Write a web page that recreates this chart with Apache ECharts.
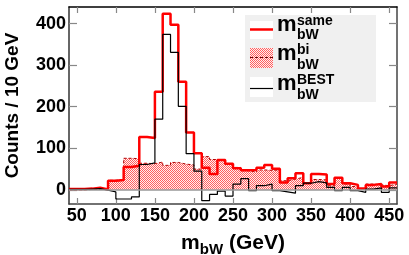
<!DOCTYPE html>
<html><head><meta charset="utf-8">
<script src="https://cdn.jsdelivr.net/npm/echarts@6/dist/echarts.min.js"></script>
<style>html,body{margin:0;padding:0;background:#fff}#c{width:409px;height:255px}</style>
</head><body><div id="c"></div>
<script>
// lower bin edges (GeV), bins are 10 GeV wide; last upper edge 460
const binLow = [40,50,60,70,80,90,100,110,120,130,140,150,160,170,180,190,200,210,220,230,240,250,260,270,280,290,300,310,320,330,340,350,360,370,380,390,400,410,420,430,440,450];
const lastEdge = 460;
const sameVals = [2,2,3,5,1,22,24,55,58,127,125,236,424,397,260,138,88,53,38,72,63,52,47,48,53,60,51,18,28,40,16,38,37,14,29,16,12,3,12,14,8,18];
const biVals   = [0,0,1,1,1,23,25,76,75,64,63,67,59,66,62,60,50,80,73,73,63,54,46,43,48,47,48,22,26,30,16,25,24,10,28,14,8,3,14,12,10,14];
const bestVals = [1,1,2,3,-1,-5,-22,-22,-17,61,65,170,374,331,201,87,45,-26,-11,-3,-15,14,27,-2,10,14,-2,-5,-8,10,16,20,17,6,-2,6,-2,-6,2,5,-6,5];
const xTicks = [50,100,150,200,250,300,350,400,450];
const yTicks = [0,100,200,300,400];

function stepData(vals){
  const d = binLow.map((x,i)=>[x, vals[i]]);
  d.push([lastEdge, vals[vals.length-1]]);
  return d;
}
const pc = document.createElement('canvas'); pc.width = 2; pc.height = 2;
const g = pc.getContext('2d');
g.fillStyle = '#fff0f0'; g.fillRect(0,0,2,2);
g.fillStyle = '#ff6060'; g.fillRect(0,0,1,1); g.fillRect(1,1,1,1);
const pattern = {image: pc, repeat: 'repeat'};

const FF = 'Liberation Sans, Arial, Helvetica, sans-serif';
const chart = echarts.init(document.getElementById('c'), null, {renderer:'canvas'});
const tickStyle = {color:'#888', width:1.2};
chart.setOption({
  animation:false,
  grid:{left:69, right:12, top:7, bottom:51, containLabel:false, outerBoundsMode:'none'},
  xAxis:[{
    type:'value', min:40, max:lastEdge, position:'bottom',
    axisLine:{show:true, onZero:false, lineStyle:{color:'#444', width:1.5}},
    axisTick:{show:true, inside:true, length:6, customValues:xTicks, lineStyle:tickStyle},
    axisLabel:{customValues:xTicks, fontSize:18, fontWeight:'bold', color:'#000', margin:3, fontFamily:FF},
    splitLine:{show:false},
    name:'m{s|bW} (GeV)', nameLocation:'middle', nameGap:26,
    nameTextStyle:{fontSize:21, fontWeight:'bold', color:'#000', fontFamily:FF,
      rich:{s:{fontSize:15, fontWeight:'bold', fontFamily:FF, color:'#000', padding:[12,0,0,0]}}}
  },{
    type:'value', min:40, max:lastEdge, position:'top',
    axisLine:{show:true, onZero:false, lineStyle:{color:'#000', width:1.5}},
    axisTick:{show:true, inside:true, length:6, customValues:xTicks, lineStyle:tickStyle},
    axisLabel:{show:false}, splitLine:{show:false}
  }],
  yAxis:[{
    type:'value', min:-34, max:440, position:'left',
    axisLine:{show:true, onZero:false, lineStyle:{color:'#333', width:1.5}},
    axisTick:{show:true, inside:true, length:8, customValues:yTicks, lineStyle:tickStyle},
    axisLabel:{customValues:yTicks, fontSize:18, fontWeight:'bold', color:'#000', margin:3, fontFamily:FF},
    splitLine:{show:false},
    name:'Counts / 10 GeV', nameLocation:'middle', nameGap:47, nameRotate:90,
    nameTextStyle:{fontSize:19, fontWeight:'bold', color:'#000', fontFamily:FF}
  },{
    type:'value', min:-34, max:440, position:'right',
    axisLine:{show:true, onZero:false, lineStyle:{color:'#444', width:1.5}},
    axisTick:{show:true, inside:true, length:8, customValues:yTicks, lineStyle:tickStyle},
    axisLabel:{show:false}, splitLine:{show:false}
  }],
  series:[{
    name:'bi', type:'line', step:'end', data:stepData(biVals), symbol:'none', z:2,
    lineStyle:{color:'#b00000', width:1, type:[3,2]},
    areaStyle:{color:pattern, opacity:1, origin:0},
    markLine:{silent:true, symbol:'none', label:{show:false}, lineStyle:{color:'#999', width:1.5, type:'solid'},
      data:[{yAxis:0}]}
  },{
    name:'same', type:'line', step:'end', data:stepData(sameVals), symbol:'none', z:3,
    lineStyle:{color:'#ff0000', width:2.5}
  },{
    name:'BEST', type:'line', step:'end', data:stepData(bestVals), symbol:'none', z:4,
    lineStyle:{color:'#000', width:1.2}
  }],
  graphic:[
    {type:'rect', shape:{x:245, y:15, width:131, height:87}, style:{fill:'#f0f0f0'}, z:10},
    {type:'rect', shape:{x:250, y:21, width:23, height:18}, style:{fill:'#fff'}, z:11},
    {type:'line', shape:{x1:250, y1:29.5, x2:273, y2:29.5}, style:{stroke:'#ff0000', lineWidth:2.5}, z:12},
    {type:'rect', shape:{x:250, y:48, width:23, height:20}, style:{fill:pattern}, z:11},
    {type:'line', shape:{x1:250, y1:57.5, x2:273, y2:57.5}, style:{stroke:'#600', lineWidth:1, lineDash:[3,2]}, z:12},
    {type:'rect', shape:{x:250, y:77, width:23, height:20}, style:{fill:'#fff'}, z:11},
    {type:'line', shape:{x1:250, y1:88.5, x2:273, y2:88.5}, style:{stroke:'#000', lineWidth:1.2}, z:12},
    {type:'text', x:277, y:36, style:{text:'m', font:'bold 22px '+FF, fill:'#000', textVerticalAlign:'bottom'}, z:12},
    {type:'text', x:297, y:28, style:{text:'same', font:'bold 14px '+FF, fill:'#000', textVerticalAlign:'bottom'}, z:12},
    {type:'text', x:297, y:42, style:{text:'bW', font:'bold 14px '+FF, fill:'#000', textVerticalAlign:'bottom'}, z:12},
    {type:'text', x:277, y:65, style:{text:'m', font:'bold 22px '+FF, fill:'#000', textVerticalAlign:'bottom'}, z:12},
    {type:'text', x:297, y:57, style:{text:'bi', font:'bold 14px '+FF, fill:'#000', textVerticalAlign:'bottom'}, z:12},
    {type:'text', x:297, y:72, style:{text:'bW', font:'bold 14px '+FF, fill:'#000', textVerticalAlign:'bottom'}, z:12},
    {type:'text', x:277, y:95, style:{text:'m', font:'bold 22px '+FF, fill:'#000', textVerticalAlign:'bottom'}, z:12},
    {type:'text', x:297, y:87, style:{text:'BEST', font:'bold 14px '+FF, fill:'#000', textVerticalAlign:'bottom'}, z:12},
    {type:'text', x:297, y:102, style:{text:'bW', font:'bold 14px '+FF, fill:'#000', textVerticalAlign:'bottom'}, z:12}
  ]
});
</script></body></html>
